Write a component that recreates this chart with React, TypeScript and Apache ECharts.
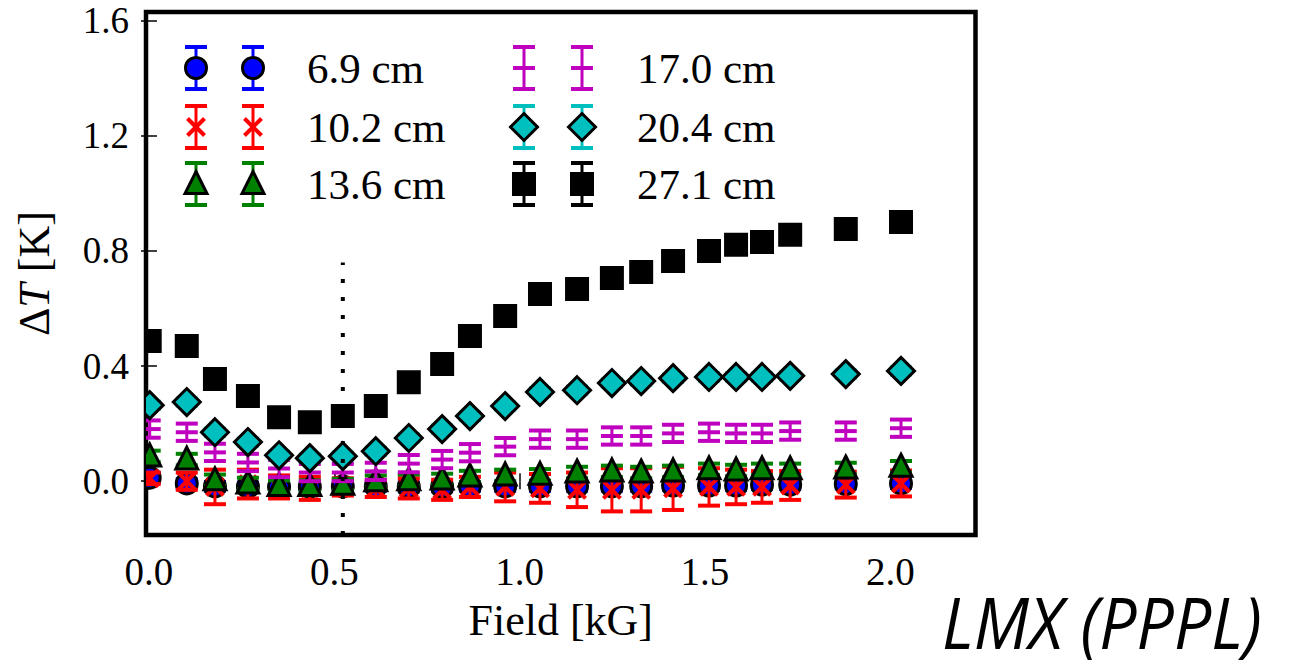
import React, { useEffect, useRef } from "react";
import * as echarts from "echarts";

// ---- data ----
const fieldKG = [0.002, 0.102, 0.178, 0.267, 0.351, 0.434, 0.523, 0.612, 0.701, 0.791, 0.866, 0.961, 1.055, 1.155, 1.249, 1.328, 1.414, 1.511, 1.584, 1.654, 1.73, 1.88, 2.029];

const dT_69 = [0.012, -0.008, -0.018, -0.02, -0.02, -0.02, -0.018, -0.018, -0.02, -0.02, -0.018, -0.018, -0.018, -0.018, -0.018, -0.018, -0.015, -0.015, -0.015, -0.012, -0.012, -0.01, -0.008];
const err_69 = [0.015, 0.015, 0.015, 0.015, 0.015, 0.015, 0.015, 0.015, 0.015, 0.015, 0.015, 0.015, 0.015, 0.015, 0.015, 0.015, 0.015, 0.015, 0.015, 0.015, 0.015, 0.015, 0.015];

const dT_102 = [0.01, 0.0, -0.02, -0.01, -0.02, -0.025, -0.02, -0.025, -0.025, -0.03, -0.02, -0.02, -0.025, -0.03, -0.03, -0.03, -0.025, -0.02, -0.02, -0.02, -0.015, -0.012, -0.008];
const err_102 = [0.02, 0.03, 0.06, 0.05, 0.04, 0.04, 0.03, 0.03, 0.035, 0.035, 0.035, 0.05, 0.05, 0.06, 0.075, 0.075, 0.075, 0.065, 0.06, 0.055, 0.05, 0.045, 0.045];

const dT_136 = [0.086, 0.075, 0.003, -0.008, -0.017, -0.017, -0.012, 0.0, 0.003, 0.006, 0.016, 0.02, 0.022, 0.03, 0.034, 0.03, 0.034, 0.041, 0.037, 0.041, 0.041, 0.044, 0.05];
const err_136 = [0.02, 0.02, 0.02, 0.02, 0.02, 0.02, 0.02, 0.02, 0.02, 0.02, 0.02, 0.02, 0.02, 0.02, 0.02, 0.02, 0.02, 0.02, 0.02, 0.02, 0.02, 0.02, 0.02];

const dT_170 = [0.181, 0.17, 0.1, 0.065, 0.044, 0.03, 0.03, 0.034, 0.061, 0.075, 0.099, 0.12, 0.146, 0.146, 0.157, 0.157, 0.166, 0.17, 0.166, 0.166, 0.174, 0.174, 0.184];
const err_170 = [0.03, 0.03, 0.03, 0.03, 0.03, 0.03, 0.03, 0.03, 0.03, 0.03, 0.03, 0.03, 0.03, 0.03, 0.03, 0.03, 0.03, 0.03, 0.03, 0.03, 0.03, 0.03, 0.03];

const dT_204 = [0.264, 0.275, 0.17, 0.136, 0.09, 0.08, 0.087, 0.104, 0.15, 0.181, 0.226, 0.261, 0.31, 0.316, 0.341, 0.348, 0.358, 0.362, 0.362, 0.362, 0.366, 0.372, 0.383];
const err_204 = [0.012, 0.012, 0.012, 0.012, 0.012, 0.012, 0.012, 0.012, 0.012, 0.012, 0.012, 0.012, 0.012, 0.012, 0.012, 0.012, 0.012, 0.012, 0.012, 0.012, 0.012, 0.012, 0.012];

const dT_271 = [0.487, 0.47, 0.355, 0.296, 0.222, 0.205, 0.226, 0.261, 0.344, 0.407, 0.504, 0.574, 0.65, 0.668, 0.706, 0.727, 0.765, 0.8, 0.821, 0.831, 0.856, 0.876, 0.9];
const err_271 = [0.015, 0.015, 0.015, 0.015, 0.015, 0.015, 0.015, 0.015, 0.015, 0.015, 0.015, 0.015, 0.015, 0.015, 0.015, 0.015, 0.015, 0.015, 0.015, 0.015, 0.015, 0.015, 0.015];

const xTicks = [0, 0.5, 1.0, 1.5, 2.0];
const yTicks = [0, 0.4, 0.8, 1.2, 1.6];
const X_MIN = -0.008;
const X_MAX = 2.23;
const Y_MIN = -0.187;
const Y_MAX = 1.63;
const markerField = 0.523;
const markerTop = 0.76;

const SERIES = [
  { name: "6.9 cm", kind: "circle", color: "#0000ff", y: dT_69, err: err_69 },
  { name: "10.2 cm", kind: "x", color: "#ff0000", y: dT_102, err: err_102 },
  { name: "13.6 cm", kind: "triangle", color: "#008000", y: dT_136, err: err_136 },
  { name: "17.0 cm", kind: "hline", color: "#bf00bf", y: dT_170, err: err_170 },
  { name: "20.4 cm", kind: "diamond", color: "#00bfbf", y: dT_204, err: err_204 },
  { name: "27.1 cm", kind: "square", color: "#000000", y: dT_271, err: err_271 },
];

const SERIF = "'Liberation Serif', 'DejaVu Serif', serif";

function glyph(kind: string, color: string, cx: number, cy: number, yTop: number, yBot: number) {
  const capW = 11;
  const els: any[] = [
    { type: "line", shape: { x1: cx, y1: yTop, x2: cx, y2: yBot }, style: { stroke: color, lineWidth: 3 } },
    { type: "line", shape: { x1: cx - capW, y1: yTop, x2: cx + capW, y2: yTop }, style: { stroke: color, lineWidth: 4 } },
    { type: "line", shape: { x1: cx - capW, y1: yBot, x2: cx + capW, y2: yBot }, style: { stroke: color, lineWidth: 4 } },
  ];
  const edge = { stroke: "#000", lineWidth: 3, lineJoin: "miter" };
  if (kind === "circle") {
    els.push({ type: "circle", shape: { cx, cy, r: 10.5 }, style: { fill: color, ...edge } });
  } else if (kind === "x") {
    const s = 8.5;
    els.push({ type: "line", shape: { x1: cx - s, y1: cy - s, x2: cx + s, y2: cy + s }, style: { stroke: color, lineWidth: 4 } });
    els.push({ type: "line", shape: { x1: cx - s, y1: cy + s, x2: cx + s, y2: cy - s }, style: { stroke: color, lineWidth: 4 } });
  } else if (kind === "triangle") {
    els.push({ type: "polygon", shape: { points: [[cx, cy - 12.5], [cx + 11, cy + 9.5], [cx - 11, cy + 9.5]] }, style: { fill: color, ...edge } });
  } else if (kind === "hline") {
    els.push({ type: "line", shape: { x1: cx - 11, y1: cy, x2: cx + 11, y2: cy }, style: { stroke: color, lineWidth: 4 } });
  } else if (kind === "diamond") {
    els.push({ type: "polygon", shape: { points: [[cx, cy - 13.5], [cx + 13.5, cy], [cx, cy + 13.5], [cx - 13.5, cy]] }, style: { fill: color, ...edge } });
  } else if (kind === "square") {
    els.push({ type: "rect", shape: { x: cx - 10.5, y: cy - 10.5, width: 21, height: 21 }, style: { fill: color, ...edge } });
  }
  return els;
}

function makeRender(kind: string, color: string) {
  return (params: any, api: any) => {
    const x = api.value(0);
    const y = api.value(1);
    const e = api.value(2);
    const c = api.coord([x, y]);
    const top = api.coord([x, y + e]);
    const bot = api.coord([x, y - e]);
    return { type: "group", children: glyph(kind, color, c[0], c[1], top[1], bot[1]) };
  };
}

function legendGraphics() {
  const rows = [68, 127, 184];
  const cols = [
    { m1: 196, m2: 253, tx: 307 },
    { m1: 524, m2: 582, tx: 637 },
  ];
  const els: any[] = [];
  SERIES.forEach((s, i) => {
    const col = cols[Math.floor(i / 3)];
    const y = rows[i % 3];
    [col.m1, col.m2].forEach((mx) => {
      glyph(s.kind, s.color, mx, y, y - 21, y + 21).forEach((g) => els.push(g));
    });
    els.push({
      type: "text",
      x: col.tx,
      y: y,
      style: { text: s.name, font: `43px ${SERIF}`, fill: "#000", verticalAlign: "middle", align: "left" },
    });
  });
  els.push({
    type: "text",
    x: 942,
    y: 622,
    scaleY: 1.07,
    style: {
      text: "LMX (PPPL)",
      font: "italic 66px 'Open Sans', 'Noto Sans', sans-serif",
      lineHeight: 56,
      fill: "#000",
      verticalAlign: "middle",
      align: "left",
    },
  });
  return els;
}

export default function App() {
  const ref = useRef<HTMLDivElement>(null);
  useEffect(() => {
    if (!ref.current) return;
    const chart = echarts.init(ref.current, undefined, { renderer: "svg" });
    const tickCommon = {
      show: true,
      inside: true,
      length: 8,
      lineStyle: { color: "#000", width: 1.5 },
    };
    const option: any = {
      animation: false,
      backgroundColor: "#fff",
      grid: {
        left: 146,
        top: 12,
        right: 313.5,
        bottom: 135,
        show: true,
        borderColor: "#000",
        borderWidth: 4.5,
        backgroundColor: "transparent",
      },
      xAxis: [
        {
          type: "value",
          min: X_MIN,
          max: X_MAX,
          position: "bottom",
          name: "Field [kG]",
          nameLocation: "middle",
          nameGap: 63,
          nameTextStyle: { fontFamily: SERIF, fontSize: 44, color: "#000" },
          axisLine: { show: false },
          splitLine: { show: false },
          axisTick: { ...tickCommon, customValues: xTicks },
          axisLabel: {
            customValues: xTicks,
            formatter: (v: number) => v.toFixed(1),
            fontFamily: SERIF,
            fontSize: 39,
            lineHeight: 32,
            color: "#000",
            margin: 20,
          },
        },
        {
          type: "value",
          min: X_MIN,
          max: X_MAX,
          position: "top",
          axisLine: { show: false },
          splitLine: { show: false },
          axisTick: { ...tickCommon, customValues: xTicks },
          axisLabel: { show: false },
        },
      ],
      yAxis: [
        {
          type: "value",
          min: Y_MIN,
          max: Y_MAX,
          position: "left",
          name: "{a|Δ}{b|T}{a| [K]}",
          nameLocation: "middle",
          nameGap: 90,
          nameTextStyle: {
            color: "#000",
            rich: {
              a: { fontFamily: SERIF, fontSize: 44, color: "#000" },
              b: { fontFamily: SERIF, fontSize: 44, fontStyle: "italic", color: "#000" },
            },
          },
          axisLine: { show: false },
          splitLine: { show: false },
          axisTick: { ...tickCommon, customValues: yTicks },
          axisLabel: {
            customValues: yTicks,
            formatter: (v: number) => v.toFixed(1),
            fontFamily: SERIF,
            fontSize: 37,
            lineHeight: 30,
            color: "#000",
            margin: 17,
          },
        },
        {
          type: "value",
          min: Y_MIN,
          max: Y_MAX,
          position: "right",
          axisLine: { show: false },
          splitLine: { show: false },
          axisTick: { ...tickCommon, customValues: yTicks },
          axisLabel: { show: false },
        },
      ],
      series: [
        ...SERIES.map((s) => ({
          type: "custom",
          name: s.name,
          xAxisIndex: 0,
          yAxisIndex: 0,
          clip: true,
          renderItem: makeRender(s.kind, s.color),
          encode: { x: 0, y: 1 },
          data: fieldKG.map((x, i) => [x, s.y[i], s.err[i]]),
        })),
        {
          type: "line",
          name: "marker",
          xAxisIndex: 0,
          yAxisIndex: 0,
          symbol: "none",
          z: 10,
          lineStyle: { color: "#000", width: 4, type: [4, 14], cap: "butt" },
          data: [
            [markerField, Y_MIN],
            [markerField, markerTop],
          ],
        },
      ],
      graphic: legendGraphics(),
    };
    chart.setOption(option);
    return () => chart.dispose();
  }, []);
  return (
    <div
      ref={ref}
      style={{ position: "absolute", left: 0, top: 0, width: 1289, height: 670 }}
    />
  );
}
